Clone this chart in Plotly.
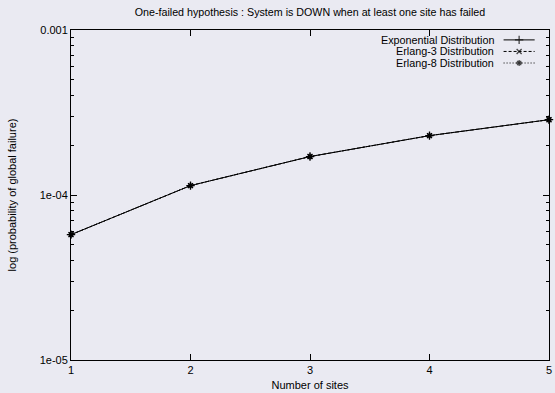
import plotly.graph_objects as go

sites = [1, 2, 3, 4, 5]
exponential = [5.75e-5, 1.14e-4, 1.71e-4, 2.29e-4, 2.86e-4]
erlang3 = [5.75e-5, 1.14e-4, 1.71e-4, 2.29e-4, 2.86e-4]
erlang8 = [5.75e-5, 1.14e-4, 1.71e-4, 2.29e-4, 2.86e-4]
series_names = ["Exponential Distribution", "Erlang-3 Distribution", "Erlang-8 Distribution"]
y_tickvals = [1e-5, 1e-4, 1e-3]
y_ticktext = ["1e-05", "1e-04", "0.001"]
x_ticks = [1, 2, 3, 4, 5]

BG = "#eaeaf2"
FONT = "Liberation Sans, Arial, sans-serif"
styles = [
    dict(dash="solid", symbol="cross-thin", msize=6),
    dict(dash="3px,2px", symbol="x-thin", msize=5),
    dict(dash="1px,2px", symbol="asterisk", msize=5),
]

fig = go.Figure()
for name, vals, st in zip(series_names, [exponential, erlang3, erlang8], styles):
    fig.add_trace(go.Scatter(
        x=sites, y=vals, mode="lines+markers", name=name, showlegend=False,
        line=dict(color="black", width=1, dash=st["dash"]),
        marker=dict(symbol=st["symbol"], size=st["msize"], color="black",
                    line=dict(color="black", width=1.3)),
        cliponaxis=False,
    ))

# custom legend (text on the left, key sample on the right, like gnuplot)
row_y = [0.97, 0.935, 0.90]
for name, st, ry in zip(series_names, styles, row_y):
    fig.add_trace(go.Scatter(
        x=[0.905, 0.9375, 0.97], y=[ry, ry, ry], xaxis="x2", yaxis="y2",
        mode="lines+markers", showlegend=False, hoverinfo="skip",
        line=dict(color="black", width=1, dash=st["dash"]),
        marker=dict(symbol=st["symbol"], size=[0, st["msize"], 0], color="black",
                    line=dict(color="black", width=1.3)),
    ))
    fig.add_annotation(
        x=0.89, y=ry, xref="x2", yref="y2", text=name, showarrow=False,
        xanchor="right", yanchor="middle", font=dict(size=10.8, color="black", family=FONT),
    )

minor_vals = [m * 10 ** e for e in (-5, -4) for m in range(2, 10)]

fig.update_layout(
    width=555, height=393,
    margin=dict(l=71, r=3, t=30, b=32),
    paper_bgcolor=BG, plot_bgcolor=BG,
    font=dict(family=FONT, size=11, color="black"),
    title=dict(text="One-failed hypothesis : System is DOWN when at least one site has failed",
               x=0.5, xref="paper", xanchor="center", y=0.97, yanchor="middle",
               font=dict(size=10.7, color="black")),
    xaxis=dict(
        range=[1, 5], tickvals=x_ticks, ticks="inside", ticklen=6, tickcolor="black",
        showline=True, linecolor="black", linewidth=1, mirror="ticks",
        showgrid=False, zeroline=False, ticklabeloverflow="allow",
        title=dict(text="Number of sites", standoff=6, font=dict(size=11)),
        tickfont=dict(size=11),
    ),
    yaxis=dict(
        type="log", range=[-5, -3], tickvals=y_tickvals, ticktext=y_ticktext,
        ticks="inside", ticklen=6, tickcolor="black",
        showline=True, linecolor="black", linewidth=1, mirror="ticks",
        showgrid=False, zeroline=False,
        minor=dict(tickvals=minor_vals, ticks="inside", ticklen=3, tickcolor="black", showgrid=False),
        title=dict(text="log (probability of global failure)", standoff=20, font=dict(size=11)),
        tickfont=dict(size=11),
    ),
    xaxis2=dict(range=[0, 1], overlaying="x", visible=False, fixedrange=True),
    yaxis2=dict(range=[0, 1], overlaying="y", visible=False, fixedrange=True),
)

fig.write_html("out.html")
